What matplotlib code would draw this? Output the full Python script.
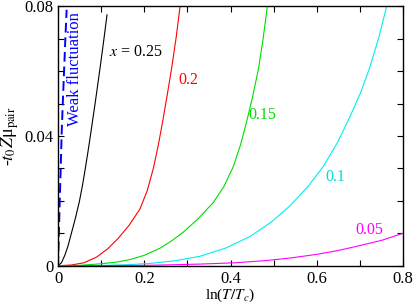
import matplotlib
matplotlib.use("Agg")
import matplotlib.pyplot as plt
from matplotlib.ticker import MultipleLocator

plt.rcParams["font.family"] = ["Liberation Serif", "DejaVu Serif"]
plt.rcParams["mathtext.fontset"] = "stix"

# curves: ln(T/Tc) vs -t0 Z mu_pair
x025 = [0.0, 0.008, 0.016, 0.023, 0.030, 0.040, 0.0495, 0.057, 0.0634,
        0.0695, 0.0755, 0.087, 0.098, 0.106, 0.1136]
y025 = [0.0, 0.0009, 0.0033, 0.006, 0.0095, 0.0145, 0.0198, 0.025, 0.0301,
        0.0352, 0.0405, 0.051, 0.0615, 0.0695, 0.0774]

x020 = [0.0, 0.03, 0.06, 0.09, 0.115, 0.14, 0.165, 0.19, 0.207, 0.221,
        0.233, 0.244, 0.254, 0.264, 0.274, 0.283]
y020 = [0.0, 0.0002, 0.0009, 0.0027, 0.0052, 0.0085, 0.0125, 0.0175, 0.0232,
        0.0300, 0.0375, 0.0455, 0.0533, 0.0614, 0.0705, 0.080]

x015 = [0.0, 0.05, 0.1, 0.135, 0.167, 0.2, 0.2365, 0.265, 0.29, 0.325,
        0.36, 0.385, 0.4065, 0.423, 0.4375, 0.451, 0.4645, 0.475, 0.4854]
y015 = [0.0, 0.0001, 0.0006, 0.0011, 0.0019, 0.0032, 0.0054, 0.0078, 0.0103,
        0.0145, 0.0195, 0.0245, 0.0306, 0.0372, 0.0445, 0.052, 0.0605, 0.0695,
        0.080]

x010 = [0.0, 0.1, 0.16, 0.213, 0.27, 0.329, 0.39, 0.445, 0.495, 0.538, 0.58,
        0.615, 0.648, 0.677, 0.702, 0.7235, 0.744, 0.762]
y010 = [0.0, 0.0001, 0.0003, 0.0007, 0.0015, 0.0029, 0.0055, 0.009, 0.0135,
        0.0185, 0.0245, 0.0306, 0.038, 0.046, 0.0535, 0.0614, 0.0705, 0.080]

x005 = [0.0, 0.1, 0.2, 0.27, 0.33, 0.41, 0.484, 0.54, 0.6, 0.65, 0.693,
        0.75, 0.8]
y005 = [0.0, 0.00003, 0.0001, 0.0003, 0.0005, 0.0009, 0.0016, 0.0024, 0.0035,
        0.0047, 0.006, 0.0078, 0.0100]

x_weak = [0.0, 0.002, 0.004, 0.0062, 0.0085, 0.011, 0.014, 0.017, 0.020]
y_weak = [0.0, 0.01, 0.02, 0.03, 0.041, 0.05, 0.06, 0.07, 0.079]

series = [
    (x025, y025, "black"),
    (x020, y020, "#ff0000"),
    (x015, y015, "#00dd00"),
    (x010, y010, "#00eeee"),
    (x005, y005, "#ff00ff"),
]
labels = [
    (0.118, 0.066, "$x$ = 0.25", "black"),
    (0.278, 0.0573, "0.2", "#ff0000"),
    (0.441, 0.0465, "0.15", "#00dd00"),
    (0.619, 0.0275, "0.1", "#00dddd"),
    (0.689, 0.011, "0.05", "#ff00ff"),
]

fig = plt.figure(figsize=(4.15, 3.06), dpi=100)
ax = fig.add_axes([0.1398, 0.1317, 0.8313, 0.8471])

for xs, ys, c in series:
    ax.plot(xs, ys, color=c, lw=0.8)
ax.plot(x_weak, y_weak, color="#0000ff", lw=1.4, dashes=(5, 2.5))

for tx, ty, s, c in labels:
    ax.text(tx, ty, s, color=c, fontsize=11.5, va="center", ha="left")
ax.text(0.040, 0.0607, "Weak fluctuation", color="#0000ff", fontsize=12,
        rotation=90, ha="center", va="center")

ax.set_xlim(0, 0.8)
ax.set_ylim(0, 0.08)
ax.xaxis.set_major_locator(MultipleLocator(0.2))
ax.xaxis.set_minor_locator(MultipleLocator(0.1))
ax.yaxis.set_major_locator(MultipleLocator(0.04))
ax.yaxis.set_minor_locator(MultipleLocator(0.01))
ax.xaxis.set_major_formatter(lambda v, p: "0" if v == 0 else f"{v:g}")
ax.yaxis.set_major_formatter(lambda v, p: "0" if v == 0 else f"{v:g}")
ax.tick_params(which="both", direction="in", top=True, right=True,
               length=4, width=0.8, labelsize=12)
for sp in ax.spines.values():
    sp.set_linewidth(1.0)

ax.set_xlabel("ln($T/T_c$)", fontsize=11, labelpad=0)
ax.set_ylabel("-$t_0Z$μ$_{\\rm pair}$", fontsize=13, labelpad=2)

fig.savefig("out.png", dpi=100)
